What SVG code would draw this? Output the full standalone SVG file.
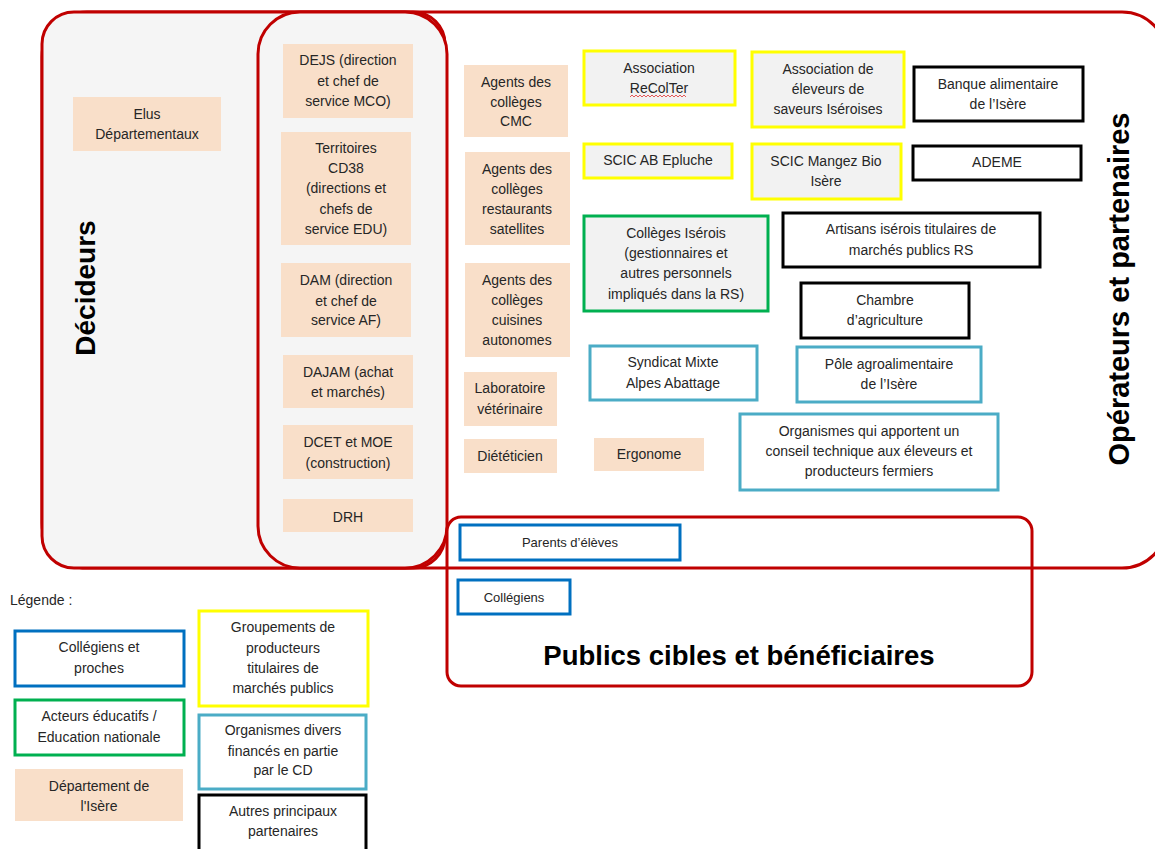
<svg xmlns="http://www.w3.org/2000/svg" width="1155" height="849" viewBox="0 0 1155 849">
<style>
.cont{fill:none;stroke:#c00000;stroke-width:3}
.grey{fill:#f5f5f5;stroke:#c00000;stroke-width:3}
.peach{fill:#f9dfc9}
.yel{fill:#f2f2f2;stroke:#ffff00;stroke-width:3}
.yelw{fill:#fff;stroke:#ffff00;stroke-width:3}
.blk{fill:#fff;stroke:#000;stroke-width:3}
.grn{fill:#f2f2f2;stroke:#00b050;stroke-width:3}
.grnw{fill:#fff;stroke:#00b050;stroke-width:3}
.lb{fill:#fff;stroke:#4bacc6;stroke-width:3}
.blu{fill:#fff;stroke:#0070c0;stroke-width:3}
text{font-family:"Liberation Sans",Arial,sans-serif;font-size:14px;fill:#262626;text-anchor:middle}
.sm{font-size:13px}
.title{font-weight:bold;font-size:27px;fill:#000}
.leg{text-anchor:start}
</style>
<g id="containers">
<rect class="cont" x="42" y="12" width="1125" height="556" rx="45"/>
<rect class="grey" x="42" y="12" width="403" height="556" rx="32"/>
<rect class="grey" x="258" y="12" width="189" height="556" rx="42"/>
<rect class="cont" x="447" y="517" width="585" height="169" rx="14"/>
<text class="title" transform="translate(95,288) rotate(-90)" style="font-size:28px">Décideurs</text>
<text class="title" transform="translate(1129,289) rotate(-90)" style="font-size:29px">Opérateurs et partenaires</text>
<text class="title" x="739" y="665" style="font-size:27.5px">Publics cibles et bénéficiaires</text>
</g>
<g id="connectors"></g>
<g id="elus"><rect class="peach" x="73" y="97" width="148" height="54"/><text x="147" y="119">Elus</text><text x="147" y="139">Départementaux</text></g>
<g id="dejs"><rect class="peach" x="283" y="44" width="130" height="74"/><text x="348" y="65">DEJS (direction</text><text x="348" y="86">et chef de</text><text x="348" y="106">service MCO)</text></g>
<g id="territoires"><rect class="peach" x="281" y="132" width="130" height="113"/><text x="346" y="153">Territoires</text><text x="346" y="173">CD38</text><text x="346" y="193">(directions et</text><text x="346" y="214">chefs de</text><text x="346" y="234">service EDU)</text></g>
<g id="dam"><rect class="peach" x="281" y="263" width="130" height="74"/><text x="346" y="285">DAM (direction</text><text x="346" y="306">et chef de</text><text x="346" y="325">service AF)</text></g>
<g id="dajam"><rect class="peach" x="283" y="355" width="130" height="53"/><text x="348" y="377">DAJAM (achat</text><text x="348" y="397">et marchés)</text></g>
<g id="dcet"><rect class="peach" x="283" y="425" width="130" height="54"/><text x="348" y="447">DCET et MOE</text><text x="348" y="468">(construction)</text></g>
<g id="drh"><rect class="peach" x="283" y="499" width="130" height="33"/><text x="348" y="522">DRH</text></g>
<g id="agents-cmc"><rect class="peach" x="464" y="65" width="104" height="72"/><text x="516" y="87">Agents des</text><text x="516" y="107">collèges</text><text x="516" y="126">CMC</text></g>
<g id="agents-sat"><rect class="peach" x="465" y="152" width="105" height="93"/><text x="517" y="174">Agents des</text><text x="517" y="194">collèges</text><text x="517" y="214">restaurants</text><text x="517" y="234">satellites</text></g>
<g id="agents-auto"><rect class="peach" x="465" y="263" width="105" height="94"/><text x="517" y="285">Agents des</text><text x="517" y="305">collèges</text><text x="517" y="325">cuisines</text><text x="517" y="345">autonomes</text></g>
<g id="labo"><rect class="peach" x="464" y="372" width="93" height="54"/><text x="510" y="393">Laboratoire</text><text x="510" y="414">vétérinaire</text></g>
<g id="dieteticien"><rect class="peach" x="464" y="439" width="93" height="34"/><text x="510" y="461">Diététicien</text></g>
<g id="ergonome"><rect class="peach" x="594" y="438" width="110" height="33"/><text x="649" y="459">Ergonome</text></g>
<g id="recolter"><rect class="yel" x="584" y="51" width="151" height="54"/><text x="659" y="73">Association</text><text x="659" y="93">ReColTer</text><path d="M630 97 l2 -2 l2 2 l2 -2 l2 2 l2 -2 l2 2 l2 -2 l2 2 l2 -2 l2 2 l2 -2 l2 2 l2 -2 l2 2 l2 -2 l2 2 l2 -2 l2 2 l2 -2 l2 2 l2 -2 l2 2 l2 -2 l2 2 l2 -2 l2 2 l2 -2 l2 2" fill="none" stroke="#e03030" stroke-width="0.8"/></g>
<g id="eleveurs"><rect class="yel" x="752" y="52" width="152" height="75"/><text x="828" y="74">Association de</text><text x="828" y="94">éleveurs de</text><text x="828" y="114">saveurs Iséroises</text></g>
<g id="epluche"><rect class="yel" x="584" y="144" width="148" height="34"/><text x="658" y="165">SCIC AB Epluche</text></g>
<g id="mangez"><rect class="yel" x="752" y="144" width="149" height="55"/><text x="826" y="166">SCIC Mangez Bio</text><text x="826" y="186">Isère</text></g>
<g id="banque"><rect class="blk" x="914" y="67" width="169" height="54"/><text x="998" y="89">Banque alimentaire</text><text x="998" y="109">de l’Isère</text></g>
<g id="ademe"><rect class="blk" x="913" y="146" width="168" height="34"/><text x="997" y="167">ADEME</text></g>
<g id="colleges"><rect class="grn" x="584" y="216" width="184" height="95"/><text x="676" y="238">Collèges Isérois</text><text x="676" y="258">(gestionnaires et</text><text x="676" y="278">autres personnels</text><text x="676" y="299">impliqués dans la RS)</text></g>
<g id="artisans"><rect class="blk" x="783" y="213" width="257" height="54"/><text x="911" y="234">Artisans isérois titulaires de</text><text x="911" y="255">marchés publics RS</text></g>
<g id="chambre"><rect class="blk" x="801" y="283" width="168" height="55"/><text x="885" y="305">Chambre</text><text x="885" y="325">d’agriculture</text></g>
<g id="syndicat"><rect class="lb" x="590" y="346" width="167" height="54"/><text x="673" y="367">Syndicat Mixte</text><text x="673" y="388">Alpes Abattage</text></g>
<g id="pole"><rect class="lb" x="797" y="347" width="184" height="55"/><text x="889" y="369">Pôle agroalimentaire</text><text x="889" y="389">de l’Isère</text></g>
<g id="organismes"><rect class="lb" x="740" y="414" width="258" height="76"/><text x="869" y="436">Organismes qui apportent un</text><text x="869" y="456">conseil technique aux éleveurs et</text><text x="869" y="476">producteurs fermiers</text></g>
<g id="parents"><rect class="blu" x="460" y="525" width="220" height="35"/><text class="sm" x="570" y="547">Parents d’élèves</text></g>
<g id="collegiens"><rect class="blu" x="458" y="580" width="112" height="34"/><text class="sm" x="514" y="602">Collégiens</text></g>
<g id="legend">
<text class="leg" x="10" y="605">Légende :</text>
<rect class="blu" x="15" y="631" width="169" height="55"/><text x="99" y="652">Collégiens et</text><text x="99" y="673">proches</text>
<rect class="grnw" x="15" y="700" width="169" height="55"/><text x="99" y="721">Acteurs éducatifs /</text><text x="99" y="742">Education nationale</text>
<rect class="peach" x="15" y="769" width="168" height="52"/><text x="99" y="791">Département de</text><text x="99" y="811">l'Isère</text>
<rect class="yelw" x="199" y="611" width="169" height="95"/><text x="283" y="632">Groupements de</text><text x="283" y="653">producteurs</text><text x="283" y="673">titulaires de</text><text x="283" y="693">marchés publics</text>
<rect class="lb" x="199" y="715" width="167" height="74"/><text x="283" y="735">Organismes divers</text><text x="283" y="756">financés en partie</text><text x="283" y="775">par le CD</text>
<rect class="blk" x="199" y="795" width="167" height="56"/><text x="283" y="816">Autres principaux</text><text x="283" y="836">partenaires</text>
</g>
</svg>
